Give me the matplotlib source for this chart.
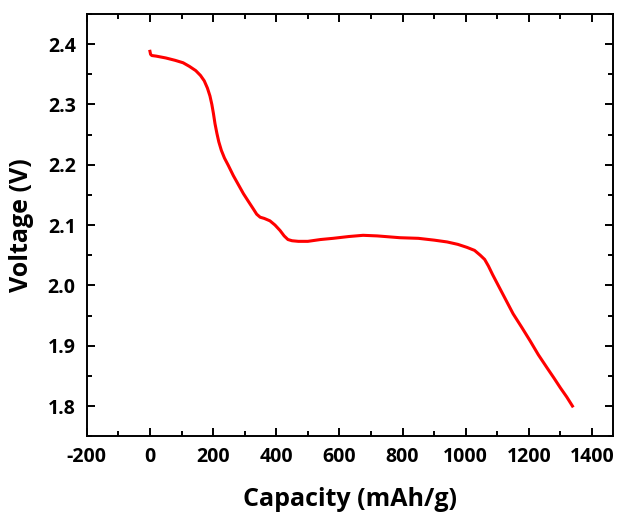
import matplotlib
matplotlib.use("Agg")
import matplotlib.pyplot as plt
from matplotlib.ticker import MultipleLocator, FormatStrFormatter

# discharge curve
capacity = [0, 2, 6, 20, 50, 80, 105, 125, 145, 160, 172, 182, 190, 196, 201,
            206, 212, 218, 226, 236, 248, 264, 280, 296, 312, 327, 338, 349,
            362, 380, 396, 412, 425, 437, 450, 470, 500, 540, 580, 630, 675,
            720, 792, 850, 900, 941, 975, 1004, 1028, 1046, 1060, 1072, 1085,
            1100, 1125, 1150, 1178, 1204, 1230, 1258, 1280, 1300, 1320, 1338]
voltage = [2.388, 2.383, 2.381, 2.380, 2.377, 2.373, 2.369, 2.363, 2.356, 2.348,
           2.339, 2.327, 2.314, 2.300, 2.285, 2.268, 2.252, 2.238, 2.224, 2.211,
           2.199, 2.182, 2.167, 2.152, 2.139, 2.127, 2.118, 2.113, 2.111, 2.107,
           2.100, 2.091, 2.082, 2.076, 2.074, 2.073, 2.073, 2.076, 2.078, 2.081,
           2.083, 2.082, 2.079, 2.078, 2.075, 2.072, 2.068, 2.063, 2.058, 2.050,
           2.043, 2.032, 2.018, 2.003, 1.978, 1.953, 1.930, 1.908, 1.885, 1.863,
           1.846, 1.830, 1.815, 1.800]

plt.rcParams['font.family'] = ['Open Sans', 'DejaVu Sans']
plt.rcParams['font.weight'] = 'bold'
plt.rcParams['axes.unicode_minus'] = False

fig = plt.figure(figsize=(6.2, 5.15), dpi=100)
ax = fig.add_axes([0.140, 0.153, 0.849, 0.820])

ax.plot(capacity, voltage, color='red', linewidth=2.2)

ax.set_xlim(-200, 1467)
ax.set_ylim(1.75, 2.45)
ax.xaxis.set_major_locator(MultipleLocator(200))
ax.xaxis.set_minor_locator(MultipleLocator(100))
ax.yaxis.set_major_locator(MultipleLocator(0.1))
ax.yaxis.set_minor_locator(MultipleLocator(0.05))
ax.yaxis.set_major_formatter(FormatStrFormatter('%.1f'))

ax.tick_params(which='both', direction='in', top=True, right=True, width=1.4)
ax.tick_params(which='major', length=6, labelsize=14, pad=8)
ax.tick_params(which='minor', length=3.5)
for lbl in ax.get_xticklabels() + ax.get_yticklabels():
    lbl.set_fontweight('bold')
for sp in ax.spines.values():
    sp.set_linewidth(1.4)

ax.set_xlabel("Capacity (mAh/g)", fontsize=18, fontweight='bold', labelpad=14)
ax.set_ylabel("Voltage (V)", fontsize=18, fontweight='bold', labelpad=10)

fig.savefig("out.png", dpi=100)
